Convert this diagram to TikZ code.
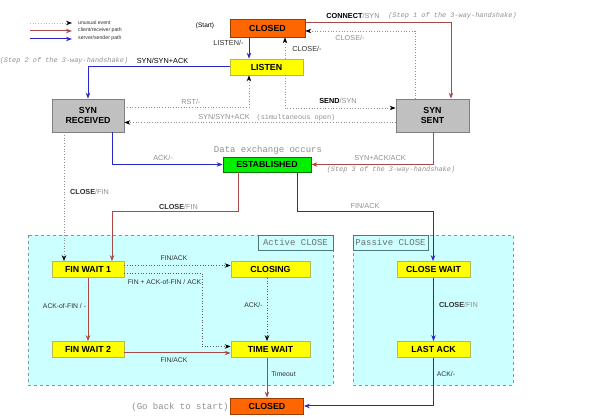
\documentclass[tikz,border=0pt]{standalone}
\usepackage{fontspec}
\setmainfont{Liberation Sans}
\newfontfamily\monofam{Liberation Mono}
\usetikzlibrary{arrows.meta}
\definecolor{redp}{HTML}{A84848}
\definecolor{bluep}{HTML}{2828C8}
\definecolor{dotc}{HTML}{909090}
\definecolor{lbl}{HTML}{909090}
\definecolor{dark}{HTML}{303030}
\definecolor{regionfill}{HTML}{CCFFFF}
\definecolor{regionline}{HTML}{909090}
\definecolor{tagline}{HTML}{507878}
\definecolor{orangef}{HTML}{FF6600}
\definecolor{yellowf}{HTML}{FFFF00}
\definecolor{grayf}{HTML}{C0C0C0}
\definecolor{greenf}{HTML}{00F000}
\begin{document}
\begin{tikzpicture}[x=1pt,y=-1pt,
  st/.style={draw=#1, line width=0.7pt, inner sep=0pt, align=center,
    font=\bfseries\fontsize{8.8}{10.5}\selectfont},
  lab/.style={font=\fontsize{7.3}{9}\selectfont, text=dark, inner sep=0pt},
  labg/.style={lab, text=lbl},
  labs/.style={font=\fontsize{6.8}{8}\selectfont, text=dark, inner sep=0pt},
  monol/.style={font=\monofam\itshape\fontsize{6.9}{8}\selectfont, text=lbl, inner sep=0pt},
  monos/.style={font=\monofam\fontsize{6.9}{8}\selectfont, text=lbl, inner sep=0pt},
  monob/.style={font=\monofam\fontsize{9}{10}\selectfont, text=lbl, inner sep=0pt},
  legt/.style={font=\fontsize{5.2}{6}\selectfont, text=dark, inner sep=0pt, anchor=west},
  tip/.style={-{Stealth[length=6pt,width=4.5pt]}},
  rp/.style={draw=redp, line width=1pt, tip},
  bp/.style={draw=bluep, line width=1pt, tip},
  dp/.style={draw=dotc, line width=0.7pt, dotted, -{Stealth[length=6pt,width=4.5pt,color=black]}},
  region/.style={fill=regionfill, draw=regionline, dashed, line width=0.7pt},
  regiontag/.style={fill=regionfill, draw=tagline, line width=0.6pt}
]
\useasboundingbox (0,0) rectangle (595,419);
\fill[white] (0,0) rectangle (595,419);

% regions
\draw[region] (28,235) rectangle (333,385);
\draw[region] (353,235) rectangle (513,385);
\draw[regiontag] (258,235) rectangle (333,250);
\draw[regiontag] (353,235) rectangle (428,250);
\node[monob, text=dark!70] (tagact) at (295.5,242.5) {Active CLOSE};
\node[monob, text=dark!70] (tagpas) at (390.5,242.5) {Passive CLOSE};

% legend
\coordinate (l1a) at (30,23); \coordinate (l1b) at (72,23);
\coordinate (l2a) at (30,31); \coordinate (l2b) at (72,31);
\coordinate (l3a) at (30,39); \coordinate (l3b) at (72,39);
\draw[dp, draw=lbl!60] (l1a) -- (l1b);
\draw[rp] (l2a) -- (l2b);
\draw[bp] (l3a) -- (l3b);
\node[legt] (lt1) at (78,22.5) {unusual event};
\node[legt] (lt2) at (78,30.5) {client/receiver path};
\node[legt] (lt3) at (78,38.5) {server/sender path};

% states
\node[st=orangef!60!black, fill=orangef, minimum width=75pt, minimum height=18pt] (closed) at (267.5,28) {CLOSED};
\node[st=yellowf!45!gray, fill=yellowf, minimum width=73pt, minimum height=16pt] (listen) at (266.5,67) {LISTEN};
\node[st=gray, fill=grayf, minimum width=72pt, minimum height=33pt] (synrcvd) at (88,115.5) {SYN\\RECEIVED};
\node[st=gray, fill=grayf, minimum width=73pt, minimum height=33pt] (synsent) at (432.5,115.5) {SYN\\SENT};
\node[st=greenf!50!black, fill=greenf, minimum width=88pt, minimum height=15pt] (estab) at (267,164.5) {ESTABLISHED};
\node[st=yellowf!45!gray, fill=yellowf, minimum width=72pt, minimum height=16pt] (fw1) at (88,269.5) {FIN WAIT 1};
\node[st=yellowf!45!gray, fill=yellowf, minimum width=79pt, minimum height=16pt] (closing) at (270.5,269.5) {CLOSING};
\node[st=yellowf!45!gray, fill=yellowf, minimum width=72pt, minimum height=16pt] (fw2) at (88,349.5) {FIN WAIT 2};
\node[st=yellowf!45!gray, fill=yellowf, minimum width=79pt, minimum height=16pt] (timewait) at (270.5,349.5) {TIME WAIT};
\node[st=orangef!60!black, fill=orangef, minimum width=73pt, minimum height=16pt] (closedb) at (267,406) {CLOSED};
\node[st=yellowf!45!gray, fill=yellowf, minimum width=73pt, minimum height=16pt] (closewait) at (433.5,269.5) {CLOSE WAIT};
\node[st=yellowf!45!gray, fill=yellowf, minimum width=73pt, minimum height=16pt] (lastack) at (433.5,349.5) {LAST ACK};

% free texts
\node[labs, text=black, font=\fontsize{6.5}{8}\selectfont] (start) at (205,26) {(Start)};
\node[monob] (dataex) at (268,150) {Data exchange occurs};
\node[monob] (goback) at (180,407) {(Go back to start)};

% connectors top
\draw[rp] (closed.east |- 0,23) -| (451,0 |- synsent.north);
\node[lab, text=black] (lconn) at (353,16) {\textbf{CONNECT}\textcolor{lbl}{/SYN}};
\node[monol] (lstep1) at (452.5,16) {(Step 1 of the 3-way-handshake)};

\draw[dp] (415,0 |- synsent.north) |- (closed.east |- 0,31);
\node[labg] (lclose1) at (350,38) {CLOSE/-};

\draw[bp] (249,0 |- closed.south) -- (249,0 |- listen.north);
\node[lab] (llisten) at (228.5,43) {LISTEN/-};

\draw[dp] (285,0 |- listen.north) -- (285,0 |- closed.south);
\node[lab] (lclose2) at (307,49) {CLOSE/-};

\draw[bp] (listen.west) -| (synrcvd.north);
\node[lab, text=black] (lsynack) at (162.5,61) {SYN/SYN+ACK};
\node[monol] (lstep2) at (64,61) {(Step 2 of the 3-way-handshake)};

\draw[dp] (synrcvd.east |- 0,107) -| (249,0 |- listen.south);
\node[labg] (lrst) at (191,102) {RST/-};

\draw[dp] (285,0 |- listen.south) |- (synsent.west |- 0,108);
\node[lab, text=black] (lsend) at (338,101) {\textbf{SEND}\textcolor{lbl}{/SYN}};

\draw[dp] (synsent.west |- 0,122.5) -- (synrcvd.east |- 0,122.5);
\node[labg] (lsim) at (224,117) {SYN/SYN+ACK};
\node[monos] (lsim2) at (296,117.5) {(simultaneous open)};

\draw[bp] (112,0 |- synrcvd.south) |- (estab.west);
\node[labg] (lack1) at (163,158) {ACK/-};

\draw[rp] (433,0 |- synsent.south) |- (estab.east);
\node[labg] (lsa) at (380,158) {SYN+ACK/ACK};
\node[monol] (lstep3) at (391,169.5) {(Step 3 of the 3-way-handshake)};

% towards closing
\draw[dp] (64,0 |- synrcvd.south) -- (64,0 |- fw1.north);
\node[lab] (lcf1) at (89.5,192) {\textbf{CLOSE}\textcolor{lbl}{/FIN}};

\coordinate (cfturn) at (112,212);
\draw[rp] (238,0 |- estab.south) |- (cfturn) -- (cfturn |- fw1.north);
\node[lab] (lcf2) at (178.5,207) {\textbf{CLOSE}\textcolor{lbl}{/FIN}};

\coordinate (faturn) at (433,212);
\draw[bp] (297,0 |- estab.south) |- (faturn) -- (faturn |- closewait.north);
\node[labg] (lfa1) at (365,206) {FIN/ACK};

% active close
\draw[dp, draw=dark!80] (fw1.east |- 0,265.5) -- (closing.west |- 0,265.5);
\node[labs] (lfa2) at (174,258) {FIN/ACK};

\coordinate (ffturn) at (202,346.5);
\draw[dp, draw=dark!80] (fw1.east |- 0,273) -| (ffturn) -- (timewait.west |- ffturn);
\node[labs] (lff) at (164.5,282) {FIN + ACK-of-FIN / ACK};

\draw[dp, draw=dark!80] (267,0 |- closing.south) -- (267,0 |- timewait.north);
\node[labs] (lack2) at (253.5,305) {ACK/-};

\draw[rp] (fw1.south) -- (fw2.north);
\node[labs] (lackfin) at (64.5,306) {ACK-of-FIN / -};

\draw[rp] (fw2.east |- 0,353) -- (timewait.west |- 0,353);
\node[labs] (lfa3) at (174,360) {FIN/ACK};

\draw[rp] (267,0 |- timewait.south) -- (267,0 |- closedb.north);
\node[labs] (ltimeout) at (283.5,374) {Timeout};

% passive close
\draw[bp] (closewait.south) -- (lastack.north);
\node[lab] (lcf3) at (458.5,305) {\textbf{CLOSE}\textcolor{lbl}{/FIN}};

\draw[bp] (lastack.south) |- (closedb.east);
\node[labs] (lack3) at (446,374) {ACK/-};
\end{tikzpicture}
\end{document}
